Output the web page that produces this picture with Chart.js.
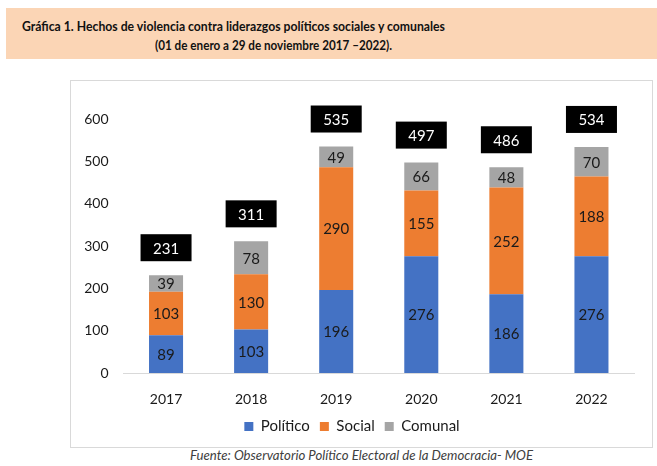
<!DOCTYPE html>
<html>
<head>
<meta charset="utf-8">
<script src="https://cdn.jsdelivr.net/npm/chart.js@4"></script>
<style>
    html, body { margin: 0; padding: 0; background: #fff; }
    body { width: 657px; height: 466px; position: relative; overflow: hidden; font-family: Lato, 'Open Sans', sans-serif; }
    .title-box { position: absolute; left: 6px; top: 8px; width: 651px; height: 51px; background: #FBD5B5; }
    .title-box span { position: absolute; white-space: nowrap; font-weight: bold; font-size: 14px; color: #111; transform-origin: left top; }
    .frame { position: absolute; left: 70px; top: 80px; width: 581px; height: 366px; border: 1px solid #D9D9D9; }
    .source { position: absolute; left: 190px; top: 447px; font-size: 13px; font-style: italic; color: #404040; white-space: nowrap; }
    #chart { position: absolute; left: 0; top: 0; }
</style>
</head>
<body>
<div class="title-box">
    <span id="t1" style="left:16px; top:9px;">Gráfica 1. Hechos de violencia contra liderazgos políticos sociales y comunales</span>
    <span id="t2" style="left:149px; top:28px;">(01 de enero a 29 de noviembre 2017 –2022).</span>
</div>
<div class="frame"></div>
<div class="source" id="src">Fuente: Observatorio Político Electoral de la Democracia- MOE</div>
<canvas id="chart" width="657" height="466"></canvas>

<script>
// Data
const years = ['2017', '2018', '2019', '2020', '2021', '2022'];
const politico = [89, 103, 196, 276, 186, 276];
const social = [103, 130, 290, 155, 252, 188];
const comunal = [39, 78, 49, 66, 48, 70];
const yTicks = [0, 100, 200, 300, 400, 500, 600];

// squeeze text lines to the measured widths
function fitWidth(id, target) {
    const el = document.getElementById(id);
    el.style.transformOrigin = 'left top';
    const w = el.getBoundingClientRect().width;
    el.style.transform = 'scaleX(' + (target / w) + ')';
}
fitWidth('t1', 423);
fitWidth('t2', 237);
fitWidth('src', 343);

const FONT = 'Lato, "Open Sans", sans-serif';

// numbers inside each segment
const segmentLabels = {
    id: 'segmentLabels',
    afterDatasetsDraw(chart) {
        const ctx = chart.ctx;
        ctx.save();
        ctx.font = '15px ' + FONT;
        ctx.fillStyle = '#1a1a1a';
        ctx.textAlign = 'center';
        ctx.textBaseline = 'middle';
        chart.data.datasets.forEach((ds, i) => {
            chart.getDatasetMeta(i).data.forEach((bar, j) => {
                ctx.fillText(String(ds.data[j]), bar.x, (bar.y + bar.base) / 2 + 1);
            });
        });
        ctx.restore();
    }
};

// black total boxes above each stack
const totalLabels = {
    id: 'totalLabels',
    afterDatasetsDraw(chart) {
        const ctx = chart.ctx;
        const yScale = chart.scales.y;
        const topMeta = chart.getDatasetMeta(chart.data.datasets.length - 1);
        ctx.save();
        ctx.font = '15px ' + FONT;
        ctx.textAlign = 'center';
        ctx.textBaseline = 'middle';
        years.forEach((y, j) => {
            const total = politico[j] + social[j] + comunal[j];
            const x = topMeta.data[j].x;
            const yTop = yScale.getPixelForValue(total);
            const h = 27, w = 51;
            const bottom = yTop - 14;
            ctx.fillStyle = '#000';
            ctx.fillRect(x - w / 2, bottom - h, w, h);
            ctx.fillStyle = '#fff';
            ctx.fillText(String(total), x, bottom - h / 2 + 1);
        });
        ctx.restore();
    }
};

new Chart(document.getElementById('chart'), {
    type: 'bar',
    data: {
        labels: years,
        datasets: [
            { label: 'Político', data: politico, backgroundColor: '#4472C4' },
            { label: 'Social', data: social, backgroundColor: '#ED7D31' },
            { label: 'Comunal', data: comunal, backgroundColor: '#A5A5A5' }
        ]
    },
    options: {
        responsive: false,
        animation: false,
        devicePixelRatio: 1,
        layout: { padding: { left: 70, right: 23, top: 119, bottom: 22 } },
        datasets: {
            bar: { barPercentage: 0.4, categoryPercentage: 1.0 }
        },
        plugins: {
            legend: {
                position: 'bottom',
                labels: {
                    boxWidth: 9,
                    boxHeight: 9,
                    padding: 10,
                    color: '#1a1a1a',
                    font: { family: FONT, size: 15 }
                }
            },
            tooltip: { enabled: false }
        },
        scales: {
            x: {
                stacked: true,
                grid: { display: false },
                border: { color: '#D9D9D9', width: 1 },
                ticks: { color: '#1a1a1a', padding: 10, font: { family: FONT, size: 14 } },
                afterFit(scale) { scale.height = 36; }
            },
            y: {
                stacked: true,
                min: 0,
                max: 600,
                grid: { display: false, drawTicks: false },
                border: { display: false },
                afterBuildTicks(scale) { scale.ticks = yTicks.map(v => ({ value: v })); },
                ticks: { color: '#1a1a1a', padding: 15, font: { family: FONT, size: 14 } },
                afterFit(scale) { scale.width = 53.5; }
            }
        }
    },
    plugins: [segmentLabels, totalLabels]
});
</script>
</body>
</html>
